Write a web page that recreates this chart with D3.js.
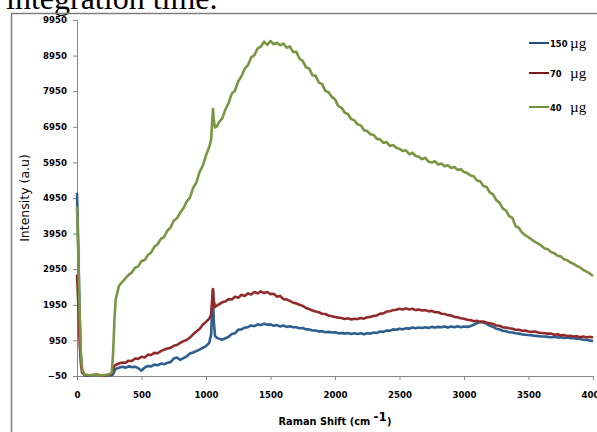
<!DOCTYPE html>
<html>
<head>
<meta charset="utf-8">
<script src="https://cdn.jsdelivr.net/npm/d3@7"></script>
<style>
  body { margin: 0; background: #fff; }
  svg { display: block; }
</style>
</head>
<body>
<div id="chart"></div>
<script>
// Raman shift grid (cm-1), finer around the sharp features
var shift = [0, 10, 20, 30, 40, 60, 100, 150, 200, 250, 270, 280, 290, 300]
    .concat(d3.range(325, 1026, 25))
    .concat([1040, 1048, 1054, 1060, 1070, 1085])
    .concat(d3.range(1100, 4001, 25));

var xTicks = [0, 500, 1000, 1500, 2000, 2500, 3000, 3500, 4000];
var yTicks = [-50, 950, 1950, 2950, 3950, 4950, 5950, 6950, 7950, 8950, 9950];

var seriesNames = ["150", "70", "40"];
var seriesColors = ["#2e5f8e", "#912b2b", "#7a9642"];

var int150 = [5100, 3600, 1700, 500, 80, -30, -40, -30, -40, -30, -30, 0, 80, 150,
    180, 210, 180, 220, 200, 210, 170,
    100, 190, 230, 220, 270, 250, 300, 280, 320, 340, 440, 470, 400, 450, 500, 580, 610, 650, 690, 740,
    790, 880,
    1120, 1900, 2380, 1500, 1080, 1020,
    1000, 970, 1010, 1050, 1130, 1150, 1250, 1260, 1310, 1320, 1370, 1350, 1400, 1380, 1420, 1390,
    1400, 1360, 1380, 1340, 1370, 1330, 1350, 1320, 1320, 1290, 1300, 1260, 1260, 1230, 1230, 1200, 1210, 1180, 1190, 1170,
    1180, 1150, 1160, 1140, 1160, 1130, 1150, 1130, 1150, 1120, 1150, 1140, 1170, 1160, 1200, 1190, 1230, 1220, 1260, 1250,
    1280, 1260, 1290, 1280, 1310, 1290, 1310, 1300, 1320, 1300, 1330, 1310, 1330, 1320, 1340, 1310, 1340, 1320, 1350, 1320,
    1340, 1330, 1350, 1390, 1430, 1470, 1450, 1420, 1360, 1330, 1280, 1260, 1220, 1210, 1180, 1170, 1150, 1140, 1120, 1110,
    1100, 1090, 1080, 1070, 1060, 1060, 1050, 1040, 1050, 1030, 1040, 1020, 1030, 1010, 1010, 1000, 990, 970, 960, 950,
    930];

var int70 = [2800, 2000, 900, 300, 50, -20, -30, -10, -40, -20, 30, 150, 230, 260,
    300, 330, 320, 380, 370, 440, 430,
    490, 470, 550, 540, 600, 590, 650, 690, 720, 740, 800, 820, 880, 930, 960, 1030, 1120, 1200, 1270, 1390,
    1470, 1560,
    1680, 2100, 2390, 2080, 1890, 1930,
    1960, 2020, 2040, 2110, 2100, 2180, 2150, 2230, 2200, 2270, 2240, 2310, 2270, 2330, 2280, 2310,
    2250, 2260, 2180, 2200, 2110, 2100, 2060, 2010, 1990, 1950, 1920, 1860, 1830, 1790, 1760, 1740, 1700, 1690, 1650, 1630,
    1610, 1590, 1580, 1550, 1570, 1540, 1560, 1550, 1580, 1560, 1600, 1610, 1640, 1650, 1700, 1710, 1760, 1770, 1800, 1810,
    1840, 1820, 1850, 1820, 1840, 1800, 1820, 1790, 1800, 1770, 1780, 1740, 1740, 1700, 1690, 1660, 1650, 1610, 1600, 1570,
    1560, 1530, 1520, 1490, 1500, 1470, 1480, 1450, 1430, 1410, 1370, 1360, 1320, 1310, 1290, 1280, 1250, 1250, 1220, 1230,
    1200, 1190, 1200, 1170, 1160, 1150, 1140, 1140, 1110, 1120, 1090, 1100, 1070, 1080, 1060, 1070, 1040, 1060, 1030, 1050,
    1030];

var int40 = [4700, 3400, 1800, 600, 120, -10, -30, -20, -30, 0, 50, 600, 1500, 2100,
    2480, 2590, 2690, 2790, 2860, 2990, 3030,
    3180, 3210, 3350, 3420, 3580, 3650, 3800, 3860, 4030, 4120, 4310, 4380, 4540, 4660, 4850, 4960, 5230, 5380, 5680, 5860,
    6150, 6380,
    6600, 7100, 7450, 7150, 6930, 6960,
    7080, 7180, 7430, 7620, 7880, 7970, 8230, 8370, 8580, 8680, 8900, 8960, 9150, 9200, 9340, 9250,
    9360, 9270, 9310, 9240, 9290, 9170, 9210, 9050, 9060, 8860, 8800, 8620, 8590, 8400, 8380, 8190, 8150, 7960, 7920, 7790,
    7720, 7530, 7490, 7350, 7310, 7170, 7130, 7020, 6990, 6850, 6830, 6740, 6720, 6610, 6600, 6500, 6520, 6410, 6440, 6360,
    6330, 6270, 6290, 6180, 6220, 6130, 6110, 6040, 6080, 5970, 5950, 5980, 5890, 5920, 5840, 5870, 5790, 5820, 5740, 5760,
    5680, 5650, 5580, 5560, 5440, 5420, 5290, 5260, 5110, 5050, 4890, 4820, 4660, 4600, 4440, 4390, 4160, 4110, 3980, 3900,
    3850, 3780, 3720, 3670, 3610, 3530, 3510, 3430, 3400, 3330, 3310, 3230, 3200, 3140, 3100, 3040, 3000, 2930, 2880, 2830,
    2760];

var seriesValues = [int150, int70, int40];

var W = 597, H = 432;
var svg = d3.select('#chart').append('svg')
    .attr('width', W).attr('height', H);

// cut-off caption from the page above the figure
svg.append('text')
    .attr('x', 6).attr('y', 9)
    .style('font-family', '"Liberation Serif", "Times New Roman", serif')
    .style('font-size', '32px')
    .text('integration time.');

// figure frame
svg.append('path')
    .attr('d', 'M11.5,' + H + 'V13.5H' + W)
    .attr('fill', 'none')
    .attr('stroke', '#7f7f7f')
    .attr('stroke-width', 1.5);

var x = d3.scaleLinear().domain([0, 4000]).range([77, 593]);
var y = d3.scaleLinear().domain([-50, 9950]).range([376, 20]);

var xAxis = svg.append('g')
    .attr('transform', 'translate(0,' + y(-50) + ')')
    .call(d3.axisBottom(x).tickValues(xTicks).tickSize(4).tickPadding(12).tickFormat(d3.format('d')));

var yAxis = svg.append('g')
    .attr('transform', 'translate(' + x(0) + ',0)')
    .call(d3.axisLeft(y).tickValues(yTicks).tickSize(4).tickPadding(6).tickFormat(d3.format('d')));

[xAxis, yAxis].forEach(function(g) {
    g.select('.domain').attr('stroke', '#868686').attr('stroke-width', 1);
    g.selectAll('.tick line').attr('stroke', '#868686');
    g.selectAll('.tick text')
        .style('font-family', '"DejaVu Sans", Verdana, sans-serif')
        .style('font-size', '8.6px')
        .style('font-weight', 'bold')
        .attr('fill', '#000');
});

// lines
var line = d3.line()
    .x(function(d) { return x(d[0]); })
    .y(function(d) { return y(d[1]); });

seriesValues.forEach(function(vals, i) {
    var pts = shift.map(function(s, j) { return [s, vals[j]]; });
    svg.append('path')
        .datum(pts)
        .attr('d', line)
        .attr('fill', 'none')
        .attr('stroke', seriesColors[i])
        .attr('stroke-width', 2.6)
        .attr('stroke-linejoin', 'round');
});

// axis titles
var xt = svg.append('text')
    .attr('x', (x(0) + x(4000)) / 2).attr('y', 425)
    .attr('text-anchor', 'middle')
    .style('font-family', '"DejaVu Sans", Verdana, sans-serif')
    .style('font-size', '9.8px')
    .style('font-weight', 'bold');
xt.append('tspan').text('Raman Shift (cm ');
xt.append('tspan').attr('dy', -4).style('font-size', '12px').text('-1');
xt.append('tspan').attr('dy', 4).text(')');

svg.append('text')
    .attr('transform', 'translate(29,' + ((y(-50) + y(9950)) / 2) + ') rotate(-90)')
    .attr('text-anchor', 'middle')
    .style('font-family', '"DejaVu Sans", Verdana, sans-serif')
    .style('font-size', '12.5px')
    .text('Intensity (a.u)');

// legend
var legendY = [43, 73, 107];
var legendColors = ["#1f4e7a", "#7b1818", "#6f8f3a"];
seriesNames.forEach(function(name, i) {
    var g = svg.append('g').attr('transform', 'translate(529,' + legendY[i] + ')');
    g.append('line').attr('x1', 0).attr('x2', 20).attr('y1', 0).attr('y2', 0)
        .attr('stroke', legendColors[i]).attr('stroke-width', 2);
    g.append('text').attr('x', 21).attr('y', 3.5)
        .style('font-family', '"DejaVu Sans", Verdana, sans-serif')
        .style('font-size', '8.4px').style('font-weight', 'bold')
        .text(name);
    g.append('text').attr('x', 41).attr('y', 4.5)
        .style('font-family', '"Liberation Serif", "Times New Roman", serif')
        .style('font-size', '15px')
        .text('\u00b5g');
});
</script>
</body>
</html>
